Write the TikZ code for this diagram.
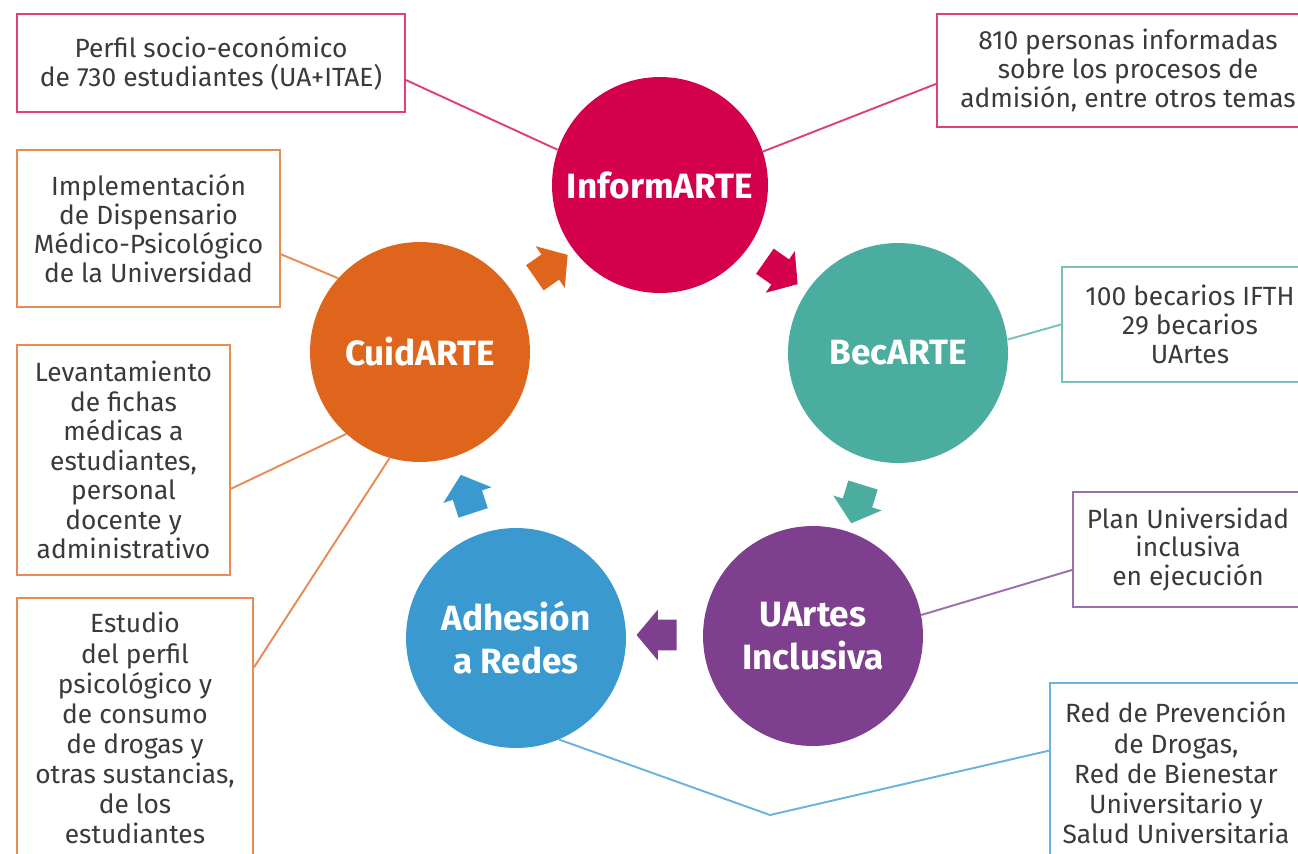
\documentclass[tikz,border=0pt]{standalone}
\usepackage{fontspec}
\setmainfont{Fira Sans}
\usetikzlibrary{shapes.arrows}
\definecolor{informcol}{HTML}{D5004B}
\definecolor{becacol}{HTML}{4AADA0}
\definecolor{inclucol}{HTML}{7D3F8E}
\definecolor{redescol}{HTML}{3A9AD0}
\definecolor{cuidacol}{HTML}{E0651C}
\definecolor{textgray}{HTML}{3A3A3A}
\tikzset{
  ring/.style={circle,fill=#1,minimum size=4.4cm,inner sep=0pt,text=white,align=center,
    font=\bfseries\fontsize{20}{24.4}\selectfont},
  infobox/.style={draw=#1!75,line width=1.1pt,fill=white,align=center,inner sep=0pt,
    text=textgray,font=\fontsize{15}{16.5}\selectfont},
  link/.style={draw=#1!75,line width=1.1pt},
  turn/.style={single arrow,fill=#1,inner xsep=0pt,inner ysep=0.3cm,minimum height=0.8cm,
    single arrow head extend=0.2cm,single arrow tip angle=100}
}
\begin{document}
\begin{tikzpicture}[x=0.02cm,y=-0.02cm]
  \useasboundingbox[fill=white] (0,0) rectangle (1298,853);
  % circles
  \node[ring=informcol,minimum size=4.32cm] (inform) at (660,185) {InformARTE};
  \node[ring=becacol] (becarte) at (898,353) {BecARTE};
  \node[ring=inclucol] (uartes) at (813,636) {UArtes\\Inclusiva};
  \node[ring=redescol] (adhesion) at (516,638) {Adhesión\\a Redes};
  \node[ring=cuidacol] (cuidarte) at (420,352) {CuidARTE};
  % arrows between circles
  \node[turn=cuidacol,rotate=35] (toinform) at (546,270) {};
  \node[turn=informcol,rotate=-35] (tobecarte) at (776,269) {};
  \node[turn=becacol,rotate=253] (touartes) at (859,498) {};
  \node[turn=inclucol,rotate=180] (toadhesion) at (663,635) {};
  \node[turn=redescol,rotate=108] (tocuidarte) at (469,500) {};
  % boxes
  \node[infobox=informcol,minimum width=7.76cm,minimum height=1.96cm] (perfil) at (211,63)
    {Perfil socio-económico\\de 730 estudiantes (UA+ITAE)};
  \node[infobox=informcol,minimum width=7.64cm,minimum height=2.26cm] (personas) at (1128,70.5)
    {810 personas informadas\\sobre los procesos de\\admisión, entre otros temas};
  \node[infobox=cuidacol,minimum width=5.26cm,minimum height=3.14cm] (dispensario) at (148.5,228.5)
    {Implementación\\de Dispensario\\Médico-Psicológico\\de la Universidad};
  \node[infobox=becacol,minimum width=5.12cm,minimum height=2.3cm] (becarios) at (1190,324.5)
    {100 becarios IFTH\\29 becarios\\UArtes};
  \node[infobox=cuidacol,minimum width=4.26cm,minimum height=4.6cm,font=\fontsize{15}{16.8}\selectfont] (fichas) at (123.5,460)
    {Levantamiento\\de fichas\\médicas a\\estudiantes,\\personal\\docente y\\administrativo};
  \node[infobox=cuidacol,minimum width=4.72cm,minimum height=5.2cm,font=\fontsize{15}{17.1}\selectfont] (estudio) at (135,728)
    {Estudio\\del perfil\\psicológico y\\de consumo\\de drogas y\\otras sustancias,\\de los\\estudiantes};
  \node[infobox=inclucol,minimum width=4.6cm,minimum height=2.3cm] (plan) at (1188,549.5)
    {Plan Universidad\\inclusiva\\en ejecución};
  \node[infobox=redescol,minimum width=5.04cm,minimum height=3.6cm,font=\fontsize{15}{17.2}\selectfont] (redes) at (1176,773)
    {Red de Prevención\\de Drogas,\\Red de Bienestar\\Universitario y\\Salud Universitaria};
  % connectors
  \coordinate (bend) at (770,815);
  \draw[link=informcol] (perfil.-5) -- (inform.161);
  \draw[link=informcol] (personas.184) -- (inform.18);
  \draw[link=cuidacol] (dispensario.-11) -- (cuidarte.138);
  \draw[link=cuidacol] (fichas.-15) -- (cuidarte.228);
  \draw[link=cuidacol] (estudio.27) -- (cuidarte.254);
  \draw[link=becacol] (becarios.west) -- (becarte.7);
  \draw[link=inclucol] (plan.190) -- (uartes.11);
  \draw[link=redescol] (redes.170) -- (bend) -- (adhesion.293);
\end{tikzpicture}
\end{document}
